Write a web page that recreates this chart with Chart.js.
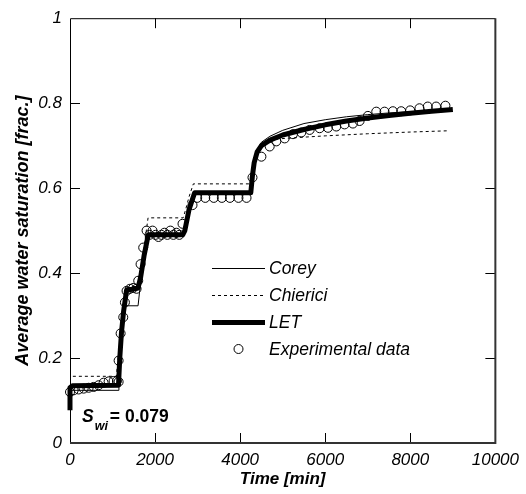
<!DOCTYPE html>
<html>
<head>
<meta charset="utf-8">
<script src="https://cdn.jsdelivr.net/npm/chart.js@4/dist/chart.umd.min.js"></script>
<style>
html,body{margin:0;padding:0;background:#fff;}
#c{display:block;}
</style>
</head>
<body>
<canvas id="c" width="526" height="494"></canvas>
<script>
// ---- data ----
const letTime = [0, 0, 60, 1140, 1170, 1210, 1260, 1330, 1450, 1600, 1660, 1740, 1840, 2000, 2650, 2700, 2800, 2930, 4250, 4290, 4330, 4400, 4500, 4700, 5000, 5500, 6000, 6500, 7000, 7500, 8000, 8500, 9000];
const letSat  = [0.077, 0.13, 0.135, 0.136, 0.2, 0.26, 0.31, 0.36, 0.362, 0.365, 0.39, 0.44, 0.49, 0.49, 0.49, 0.5, 0.55, 0.589, 0.589, 0.63, 0.66, 0.685, 0.7, 0.713, 0.725, 0.738, 0.749, 0.758, 0.765, 0.771, 0.776, 0.781, 0.785];

const coreyTime = [0, 0, 1130, 1150, 1200, 1260, 1310, 1600, 1640, 1740, 1840, 2000, 2650, 2700, 2800, 2900, 4280, 4320, 4400, 4500, 4700, 5000, 5500, 6000, 6500, 7000, 7500, 8000, 8500, 8950];
const coreySat  = [0.079, 0.124, 0.124, 0.19, 0.25, 0.3, 0.323, 0.323, 0.36, 0.43, 0.49, 0.49, 0.49, 0.5, 0.55, 0.59, 0.59, 0.65, 0.69, 0.708, 0.722, 0.736, 0.752, 0.761, 0.768, 0.773, 0.777, 0.78, 0.783, 0.785];

const chiericiTime = [0, 0, 1090, 1130, 1200, 1260, 1330, 1600, 1660, 1740, 1835, 2000, 2660, 2720, 2800, 2900, 4250, 4290, 4340, 4400, 4500, 4650, 4900, 5500, 6000, 7000, 8000, 8900];
const chiericiSat  = [0.079, 0.157, 0.157, 0.2, 0.26, 0.31, 0.365, 0.37, 0.4, 0.46, 0.53, 0.53, 0.53, 0.55, 0.58, 0.61, 0.61, 0.64, 0.665, 0.68, 0.695, 0.707, 0.716, 0.72, 0.723, 0.728, 0.732, 0.735];

const expTime = [0, 86, 204, 321, 438, 556, 673, 790, 908, 1025, 1103, 1143, 1143, 1190, 1252, 1291, 1330, 1408, 1486, 1565, 1604, 1659, 1721, 1800, 1870, 1940, 2010, 2080, 2150, 2220, 2290, 2360, 2430, 2500, 2570, 2645, 2880, 2990, 3180, 3380, 3570, 3760, 3960, 4150, 4290, 4500, 4695, 4850, 5047, 5242, 5438, 5634, 5869, 6064, 6260, 6455, 6651, 6808, 7003, 7200, 7394, 7590, 7786, 7997, 8216, 8411, 8607, 8826];
const expSat  = [0.12, 0.124, 0.126, 0.128, 0.13, 0.132, 0.136, 0.142, 0.145, 0.146, 0.146, 0.144, 0.194, 0.258, 0.296, 0.331, 0.358, 0.363, 0.365, 0.363, 0.382, 0.421, 0.46, 0.5, 0.49, 0.5, 0.49, 0.485, 0.49, 0.495, 0.49, 0.5, 0.49, 0.495, 0.49, 0.516, 0.56, 0.577, 0.577, 0.577, 0.577, 0.577, 0.577, 0.577, 0.625, 0.674, 0.698, 0.71, 0.717, 0.727, 0.731, 0.737, 0.741, 0.742, 0.745, 0.75, 0.752, 0.758, 0.77, 0.78, 0.78, 0.781, 0.781, 0.783, 0.788, 0.792, 0.792, 0.794];

const xTickValues = [0, 2000, 4000, 6000, 8000, 10000];
const xTickLabels = ['0', '2000', '4000', '6000', '8000', '10000'];
const yTickValues = [0, 0.2, 0.4, 0.6, 0.8, 1];
const yTickLabels = ['0', '0.2', '0.4', '0.6', '0.8', '1'];

const seriesNames = ['Corey', 'Chierici', 'LET', 'Experimental data'];
const xTitle = 'Time [min]';
const yTitle = 'Average water saturation [frac.]';
const annotMain = 'S';
const annotSub = 'wi';
const annotValue = '= 0.079';

// ---- helpers ----
function pts(xs, ys) { return xs.map((x, i) => ({x: x, y: ys[i]})); }
const FONT = '"Liberation Sans", Arial, sans-serif';

const framePlugin = {
  id: 'frame',
  afterDatasetsDraw(chart) {
    const {ctx, chartArea: a, scales} = chart;
    ctx.save();
    ctx.strokeStyle = '#000';
    ctx.lineWidth = 1;
    // inward tick marks on all four sides
    xTickValues.forEach(v => {
      if (v <= scales.x.min || v >= scales.x.max) return;
      const px = Math.round(scales.x.getPixelForValue(v)) + 0.5;
      ctx.beginPath();
      ctx.moveTo(px, a.bottom); ctx.lineTo(px, a.bottom - 10);
      ctx.moveTo(px, a.top); ctx.lineTo(px, a.top + 10);
      ctx.stroke();
    });
    yTickValues.forEach(v => {
      if (v <= scales.y.min || v >= scales.y.max) return;
      const py = Math.round(scales.y.getPixelForValue(v)) + 0.5;
      ctx.beginPath();
      ctx.moveTo(a.left, py); ctx.lineTo(a.left + 10, py);
      ctx.moveTo(a.right, py); ctx.lineTo(a.right - 10, py);
      ctx.stroke();
    });
    // frame
    ctx.beginPath();
    ctx.moveTo(a.left + 0.5, a.bottom); ctx.lineTo(a.left + 0.5, a.top + 0.5); ctx.lineTo(a.right, a.top + 0.5);
    ctx.stroke();
    ctx.strokeStyle = '#333';
    ctx.lineWidth = 2;
    ctx.beginPath();
    ctx.moveTo(a.right, a.top); ctx.lineTo(a.right, a.bottom); ctx.lineTo(a.left, a.bottom);
    ctx.stroke();
    ctx.restore();
  },
  afterDraw(chart) {
    const {ctx} = chart;
    const ds = chart.data.datasets;
    ctx.save();
    // legend
    const x0 = 212, x1 = 265, tx = 269;
    const ys = [268, 295, 322, 349];
    ctx.font = 'italic 17.5px ' + FONT;
    ctx.fillStyle = '#000';
    ctx.textBaseline = 'alphabetic';
    ctx.textAlign = 'left';
    const order = [1, 2, 0, 3]; // Corey, Chierici, LET, Exp indices in datasets
    order.forEach((di, i) => {
      const d = ds[di];
      const y = ys[i];
      ctx.save();
      ctx.strokeStyle = '#000';
      if (d.pointRadius > 0 && !d.showLine) {
        ctx.lineWidth = 1;
        ctx.beginPath();
        ctx.arc((x0 + x1) / 2, y, 4.5, 0, Math.PI * 2);
        ctx.stroke();
      } else {
        ctx.lineWidth = d.borderWidth;
        ctx.setLineDash(d.borderDash || []);
        ctx.beginPath();
        ctx.moveTo(x0, y + 0.5); ctx.lineTo(x1, y + 0.5);
        ctx.stroke();
      }
      ctx.restore();
      ctx.fillText(d.label, tx, y + 6);
    });
    // annotation S_wi = 0.079
    const ax = 82, ab = 422;
    ctx.font = 'bold italic 17.5px ' + FONT;
    ctx.fillText(annotMain, ax, ab);
    const wS = ctx.measureText(annotMain).width;
    ctx.font = 'bold italic 12.5px ' + FONT;
    ctx.fillText(annotSub, ax + wS + 1, ab + 8);
    const wSub = ctx.measureText(annotSub).width;
    ctx.font = 'bold 17.5px ' + FONT;
    ctx.fillText(annotValue, ax + wS + wSub + 3, ab);
    ctx.restore();
  }
};

new Chart(document.getElementById('c'), {
  type: 'scatter',
  data: {
    datasets: [
      {label: seriesNames[2], data: pts(letTime, letSat), showLine: true, borderColor: '#000', borderWidth: 5, pointRadius: 0, order: 0, clip: 6, borderJoinStyle: 'round'},
      {label: seriesNames[0], data: pts(coreyTime, coreySat), showLine: true, borderColor: '#000', borderWidth: 1, pointRadius: 0, order: 1},
      {label: seriesNames[1], data: pts(chiericiTime, chiericiSat), showLine: true, borderColor: '#000', borderWidth: 1, borderDash: [3, 3], pointRadius: 0, order: 2},
      {label: seriesNames[3], data: pts(expTime, expSat), showLine: false, pointStyle: 'circle', pointRadius: 4.5, pointBorderWidth: 1, borderColor: '#000', pointBorderColor: '#000', pointBackgroundColor: 'rgba(0,0,0,0)', backgroundColor: 'rgba(0,0,0,0)', order: 3, clip: 6}
    ]
  },
  options: {
    responsive: false,
    animation: false,
    events: [],
    layout: {padding: {top: 16, right: 30, left: 0, bottom: 0}},
    plugins: {legend: {display: false}, tooltip: {enabled: false}},
    scales: {
      x: {
        type: 'linear', min: 0, max: 10000,
        afterFit(s) { s.height = 51; },
        afterBuildTicks(s) { s.ticks = xTickValues.map(v => ({value: v})); },
        grid: {display: false, drawTicks: false},
        border: {display: false},
        ticks: {
          padding: 7, maxRotation: 0, autoSkip: false,
          font: {family: FONT, size: 17, style: 'italic'}, color: '#000',
          callback: (v) => xTickLabels[xTickValues.indexOf(v)]
        },
        title: {display: true, text: xTitle, color: '#000', font: {family: FONT, size: 17, style: 'italic', weight: 'bold'}, padding: {top: 0, bottom: 4}}
      },
      y: {
        type: 'linear', min: 0, max: 1,
        afterFit(s) { s.width = 70; },
        afterBuildTicks(s) { s.ticks = yTickValues.map(v => ({value: v})); },
        grid: {display: false, drawTicks: false},
        border: {display: false},
        ticks: {
          padding: 8, autoSkip: false,
          font: {family: FONT, size: 17, style: 'italic'}, color: '#000',
          callback: (v) => yTickLabels[yTickValues.indexOf(v)]
        },
        title: {display: true, text: yTitle, color: '#000', font: {family: FONT, size: 18, style: 'italic', weight: 'bold'}, padding: {top: 12, bottom: 0}}
      }
    }
  },
  plugins: [framePlugin]
});
</script>
</body>
</html>
